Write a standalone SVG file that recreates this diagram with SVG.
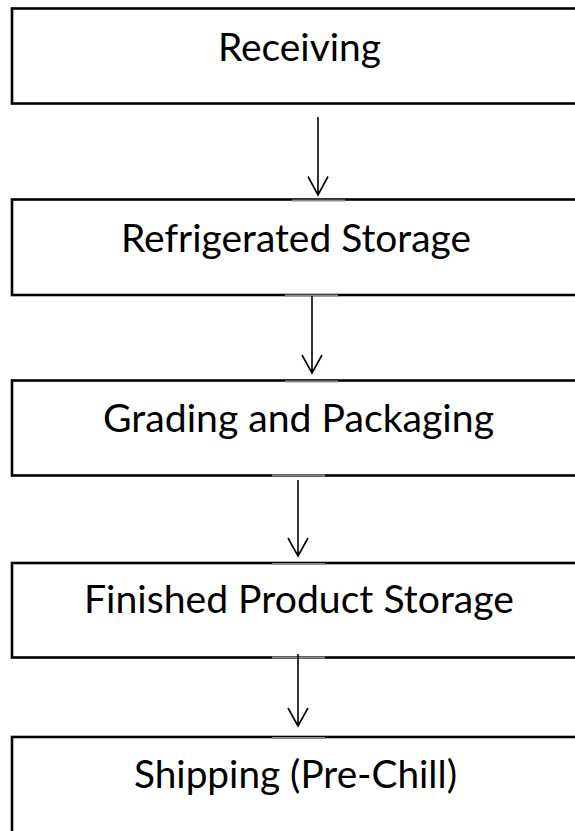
<svg xmlns="http://www.w3.org/2000/svg" width="575" height="831" viewBox="0 0 575 831">
<style>
.box{fill:#fff;stroke:#000;stroke-width:2.6}
.lbl{font-family:Lato,"Open Sans","Liberation Sans",sans-serif;font-size:38.5px;fill:#000;text-anchor:middle}
.conn{stroke:#000;stroke-width:1.6;fill:none}
.gap{stroke:#8a8a8a;stroke-width:2.2}
</style>
<rect width="575" height="831" fill="#fff"/>
<g id="n1"><rect class="box" x="12" y="8.5" width="600" height="95"/><text class="lbl" x="299.5" y="61" textLength="163" lengthAdjust="spacingAndGlyphs">Receiving</text></g>
<g id="n2"><rect class="box" x="12" y="199.5" width="600" height="95.5"/><text class="lbl" x="296" y="252" textLength="350" lengthAdjust="spacingAndGlyphs">Refrigerated Storage</text></g>
<g id="n3"><rect class="box" x="12" y="380.5" width="600" height="95"/><text class="lbl" x="298.5" y="431.5" textLength="391" lengthAdjust="spacingAndGlyphs">Grading and Packaging</text></g>
<g id="n4"><rect class="box" x="12" y="563" width="600" height="94.5"/><text class="lbl" x="299" y="612.5" textLength="430" lengthAdjust="spacingAndGlyphs">Finished Product Storage</text></g>
<g id="n5"><rect class="box" x="12" y="737" width="600" height="120"/><text class="lbl" x="295.5" y="787.5" textLength="323" lengthAdjust="spacingAndGlyphs">Shipping (Pre-Chill)</text></g>
<g id="connectors">
<line class="gap" x1="292" y1="200.5" x2="345" y2="200.5"/>
<path class="conn" d="M318 117V195M308 176.5L318 195L328 176.5"/>
<line class="gap" x1="285" y1="295.5" x2="338" y2="295.5"/>
<line class="gap" x1="285" y1="381.5" x2="338" y2="381.5"/>
<path class="conn" d="M312 296V373M302 355L312 373L322 355"/>
<line class="gap" x1="272" y1="475.5" x2="325" y2="475.5"/>
<line class="gap" x1="272" y1="564" x2="325" y2="564"/>
<path class="conn" d="M298 480V556M288 538L298 556L308 538"/>
<line class="gap" x1="272" y1="657.5" x2="325" y2="657.5"/>
<line class="gap" x1="272" y1="738" x2="325" y2="738"/>
<path class="conn" d="M298 654V726M288 708L298 726L308 708"/>
</g>
</svg>
